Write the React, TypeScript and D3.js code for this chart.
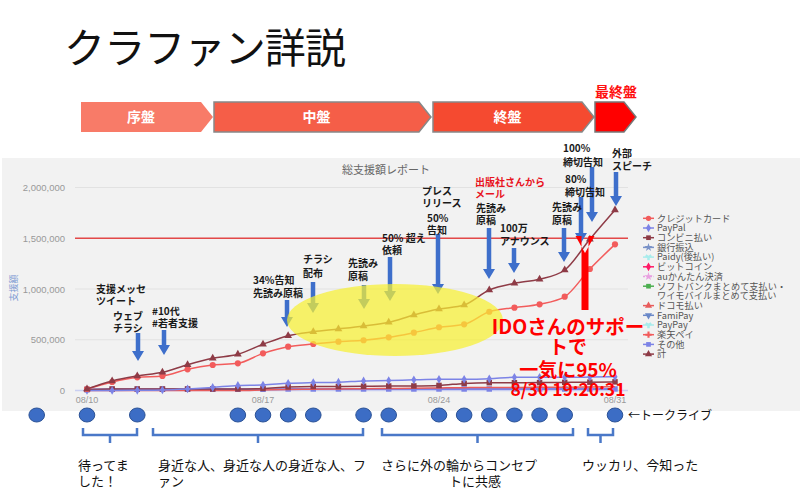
import React from 'react';
import * as d3 from 'd3';

const dates = ['08/10','08/11','08/12','08/13','08/14','08/15','08/16','08/17','08/18','08/19','08/20','08/21','08/22','08/23','08/24','08/25','08/26','08/27','08/28','08/29','08/30','08/31'];
const creditCard = [15000,84000,130000,143000,209000,251000,268000,366000,432000,458000,481000,495000,524000,570000,623000,652000,776000,816000,849000,924000,1197000,1440000];
const total = [15000,94000,143000,179000,254000,317000,357000,455000,540000,579000,606000,635000,672000,744000,803000,842000,990000,1056000,1096000,1187000,1490000,1778000];
const paypal = [0,0,2000,5000,15000,30000,50000,54000,71000,78000,82000,94000,98000,105000,110000,110000,115000,130000,130000,130000,132000,135000];
const konbini = [10000,15000,15000,15000,15000,15000,15000,20000,35000,40000,40000,42000,44000,45000,50000,70000,77000,77000,78000,80000,82000,85000];
const docomo = [0,0,0,0,0,0,0,5000,10000,12000,15000,18000,20000,22000,25000,28000,30000,30000,32000,33000,35000,38000];
const sonota = [10000,12000,12000,12000,12000,12000,12000,12000,15000,15000,15000,15000,15000,15000,15000,15000,15000,15000,15000,15000,15000,15000];
const yTicks = [0,500000,1000000,1500000,2000000];
const xTickLabels = ['08/10','08/17','08/24','08/31'];
const targetValue = 1500000;
const talkLiveDates = ['08/08','08/10','08/12','08/16','08/17','08/18','08/19','08/21','08/22','08/24','08/25','08/26','08/27','08/28','08/29','08/31'];

const legendItems = [
  { name: 'クレジットカード', color: '#F25C5C', shape: d3.symbolCircle },
  { name: 'PayPal', color: '#7C83E6', shape: d3.symbolDiamond },
  { name: 'コンビニ払い', color: '#8E3B46', shape: d3.symbolSquare },
  { name: '銀行振込', color: '#7A92C8', shape: d3.symbolStar },
  { name: 'Paidy(後払い)', color: '#A8ECEC', shape: d3.symbolWye },
  { name: 'ビットコイン', color: '#FF1A66', shape: d3.symbolDiamond },
  { name: 'auかんたん決済', color: '#E8A0E0', shape: d3.symbolStar, dashed: true },
  { name: 'ソフトバンクまとめて支払い・', color: '#4CAF50', shape: d3.symbolSquare },
  { name: 'ワイモバイルまとめて支払い', color: null, shape: null },
  { name: 'ドコモ払い', color: '#E85C5C', shape: d3.symbolTriangle },
  { name: 'FamiPay', color: '#6A88C8', shape: d3.symbolTriangle, down: true },
  { name: 'PayPay', color: '#A8ECEC', shape: d3.symbolWye },
  { name: '楽天ペイ', color: '#F25C5C', shape: d3.symbolCross },
  { name: 'その他', color: '#7C83E6', shape: d3.symbolSquare },
  { name: '計', color: '#8E3B46', shape: d3.symbolTriangle },
];

const phases = [
  { label: '序盤', x0: 81, x1: 213, fill: '#F87B68', stroke: 'none' },
  { label: '中盤', x0: 214, x1: 431, fill: '#F55E48', stroke: '#888' },
  { label: '終盤', x0: 433, x1: 594, fill: '#F54A30', stroke: '#888' },
  { label: '', x0: 595, x1: 636, fill: '#FF0000', stroke: '#777' },
];

const annotations = [
  { x: 96, y: [289, 301], lines: ['支援メッセ', 'ツイート'] },
  { x: 113, y: [316, 328], lines: ['ウェブ', 'チラシ'], ax: 138, a0: 333, a1: 361 },
  { x: 152, y: [311, 323], lines: ['#10代', '#若者支援'], ax: 164, a0: 330, a1: 355 },
  { x: 253, y: [280, 293], lines: ['34%告知', '先読み原稿'], ax: 287, a0: 300, a1: 327 },
  { x: 303, y: [259, 273], lines: ['チラシ', '配布'], ax: 313, a0: 282, a1: 313 },
  { x: 348, y: [263, 276], lines: ['先読み', '原稿'], ax: 364, a0: 285, a1: 309 },
  { x: 382, y: [238, 250], lines: ['50% 超え', '依頼'], ax: 390, a0: 257, a1: 301 },
  { x: 422, y: [191, 203], lines: ['プレス', 'リリース'] },
  { x: 427, y: [218, 230], lines: ['50%', '告知'], ax: 438, a0: 234, a1: 294 },
  { x: 475, y: [182, 194], lines: ['出版社さんから', 'メール'], red: true },
  { x: 476, y: [208, 220], lines: ['先読み', '原稿'], ax: 489, a0: 228, a1: 279 },
  { x: 500, y: [228, 241], lines: ['100万', 'アナウンス'], ax: 514, a0: 248, a1: 273 },
  { x: 552, y: [207, 220], lines: ['先読み', '原稿'], ax: 564, a0: 228, a1: 262 },
  { x: 565, y: [179, 192], lines: ['80%', '締切告知'], ax: 581, a0: 197, a1: 243 },
  { x: 563, y: [148, 162], lines: ['100%', '締切告知'], ax: 592, a0: 167, a1: 222 },
  { x: 612, y: [153, 166], lines: ['外部', 'スピーチ'], ax: 616, a0: 172, a1: 206 },
];

const brackets = [
  { x0: 83, x1: 137, lines: [{ t: '待ってま', x: 78, a: 'start' }, { t: 'した！', x: 78, a: 'start' }] },
  { x0: 153, x1: 363, lines: [{ t: '身近な人、身近な人の身近な人、フ', x: 158, a: 'start' }, { t: 'ァン', x: 158, a: 'start' }] },
  { x0: 382, x1: 573, lines: [{ t: 'さらに外の輪からコンセプ', x: 381, a: 'start' }, { t: 'トに共感', x: 475, a: 'middle' }] },
  { x0: 588, x1: 613, lines: [{ t: 'ウッカリ、今知った', x: 582, a: 'start' }] },
];

const JP = '"Noto Sans CJK JP", "Noto Sans", sans-serif';

function BlockArrow({ x, y1, y2, color = '#3E6FCB', sw = 4.5, hw = 12, hl = 10 }) {
  const d = `M${x - sw / 2},${y1} L${x + sw / 2},${y1} L${x + sw / 2},${y2 - hl} L${x + hw / 2},${y2 - hl} L${x},${y2} L${x - hw / 2},${y2 - hl} L${x - sw / 2},${y2 - hl} Z`;
  return <path d={d} fill={color} />;
}

export default function App() {
  const parse = d3.utcParse('%Y/%m/%d');
  const toDate = (s: string) => parse('2020/' + s) as Date;
  const x = d3.scaleUtc().domain([toDate('08/10'), toDate('08/31')]).range([87, 615]);
  const y = d3.scaleLinear().domain([0, 2000000]).range([390.5, 187.5]);
  const plotX0 = 75, plotX1 = 628;

  const line = d3.line<number>()
    .x((_, i) => x(toDate(dates[i])))
    .y((v) => y(v))
    .curve(d3.curveMonotoneX);

  const series = [
    { vals: sonota, color: '#7C83E6', shape: d3.symbolSquare, size: 30, width: 2 },
    { vals: docomo, color: '#E85C5C', shape: null, size: 0, width: 1.5 },
    { vals: konbini, color: '#8E3B46', shape: d3.symbolSquare, size: 30, width: 1.5 },
    { vals: paypal, color: '#7C83E6', shape: d3.symbolDiamond, size: 22, width: 1.5 },
    { vals: creditCard, color: '#F25C5C', shape: d3.symbolCircle, size: 30, width: 1.5 },
    { vals: total, color: '#8E3B46', shape: d3.symbolTriangle, size: 26, width: 1.5 },
  ];

  return (
    <svg width={800} height={495} style={{ position: 'absolute', left: 0, top: 0, background: '#fff' }} fontFamily={JP}>
      <rect x={0} y={0} width={800} height={495} fill="#fff" />
      <text x={64} y={63} fontSize={41} fill="#111" textLength={282} lengthAdjust="spacing">クラファン詳説</text>

      {phases.map((p, i) => {
        const tip = 12;
        const d = `M${p.x0},102 L${p.x1 - tip},102 L${p.x1},117 L${p.x1 - tip},132 L${p.x0},132 Z`;
        return (
          <g key={i}>
            <path d={d} fill={p.fill} stroke={p.stroke} strokeWidth={1.5} />
            {p.label && (
              <text x={(p.x0 + p.x1 - tip) / 2} y={122} textAnchor="middle" fontSize={14} fontWeight="bold" fill="#fff">{p.label}</text>
            )}
          </g>
        );
      })}
      <text x={616} y={97} textAnchor="middle" fontSize={14} fontWeight="bold" fill="#FF1010">最終盤</text>

      <rect x={2} y={158} width={798} height={253} fill="#F2F2F2" />
      <text x={386} y={174} textAnchor="middle" fontSize={11} fill="#666">総支援額レポート</text>
      <text transform="translate(17,288) rotate(-90)" textAnchor="middle" fontSize={9} fill="#7E9BD2">支援額</text>

      {yTicks.map((t) => (
        <g key={t}>
          {t > 0 && <line x1={plotX0} x2={plotX1} y1={y(t)} y2={y(t)} stroke="#E2E2E2" strokeWidth={1} />}
          <text x={65} y={y(t) + 3.5} textAnchor="end" fontSize={9.5} fill="#999" fontFamily="'Liberation Sans', Arial, sans-serif">{d3.format(',')(t)}</text>
        </g>
      ))}
      <line x1={plotX0} x2={plotX1} y1={y(0)} y2={y(0)} stroke="#C9CFF2" strokeWidth={1.5} />
      {xTickLabels.map((t) => (
        <text key={t} x={x(toDate(t))} y={403} textAnchor="middle" fontSize={9} fill="#999" fontFamily="'Liberation Sans', Arial, sans-serif">{t}</text>
      ))}
      <line x1={plotX0} x2={plotX1} y1={y(targetValue)} y2={y(targetValue)} stroke="#E34848" strokeWidth={1.3} />

      {series.map((s, si) => (
        <g key={si}>
          <path d={line(s.vals) || ''} fill="none" stroke={s.color} strokeWidth={s.width} />
          {s.shape && s.vals.map((v, i) => (
            <path key={i} transform={`translate(${x(toDate(dates[i]))},${y(v)})`} d={d3.symbol(s.shape, s.size)() || ''} fill={s.color} />
          ))}
        </g>
      ))}

      {annotations.filter((a) => a.ax).map((a, i) => (
        <BlockArrow key={i} x={a.ax} y1={a.a0} y2={a.a1} />
      ))}

      <ellipse cx={395} cy={320} rx={108} ry={36} fill="#F7F032" opacity={0.72} />

      {annotations.map((a, i) => (
        <g key={i}>
          {a.lines.map((l, j) => (
            <text key={j} x={a.x} y={a.y[j] + 3.6} fontSize={10} fontWeight="bold" fill={a.red ? '#E8141E' : '#1a1a1a'}>{l}</text>
          ))}
        </g>
      ))}

      <BlockArrow x={585} y1={310} y2={253} color="#FF0000" sw={7} hw={19} hl={17} />
      <g fill="#FF0000" fontWeight="bold" textAnchor="middle">
        <text x={568} y={334} fontSize={19.5}>IDOさんのサポー</text>
        <text x={568} y={354} fontSize={19}>トで</text>
        <text x={568} y={377} fontSize={19}>一気に95%</text>
        <text x={568} y={396} fontSize={17.5}>8/30 19:20:31</text>
      </g>

      {legendItems.map((it, i) => {
        const ly = 218.3 + i * 9.7;
        return (
          <g key={i}>
            {it.color && <line x1={643} x2={654} y1={ly} y2={ly} stroke={it.color} strokeWidth={1.5} strokeDasharray={it.dashed ? '2,1.5' : undefined} />}
            {it.shape && <path transform={`translate(648.5,${ly}) rotate(${it.down ? 180 : 0})`} d={d3.symbol(it.shape, 22)() || ''} fill={it.color} />}
            <text x={657} y={ly + 3.3} fontSize={9.2} fill="#555">{it.name}</text>
          </g>
        );
      })}

      {talkLiveDates.map((d, i) => (
        <ellipse key={i} cx={x(toDate(d))} cy={415} rx={7.8} ry={7} fill="#3C6DC5" stroke="#2B5296" strokeWidth={1} />
      ))}
      <text x={628} y={420} fontSize={12} fill="#111">←トークライブ</text>

      {brackets.map((b, i) => {
        const mid = (b.x0 + b.x1) / 2;
        return (
          <g key={i}>
            <path d={`M${b.x0},428 V435 H${b.x1} V428 M${mid},435 V443`} fill="none" stroke="#4A78C8" strokeWidth={2.5} />
            {b.lines.map((l, j) => (
              <text key={j} x={l.x} y={470 + j * 16} fontSize={13} fill="#111" textAnchor={l.a}>{l.t}</text>
            ))}
          </g>
        );
      })}
    </svg>
  );
}
